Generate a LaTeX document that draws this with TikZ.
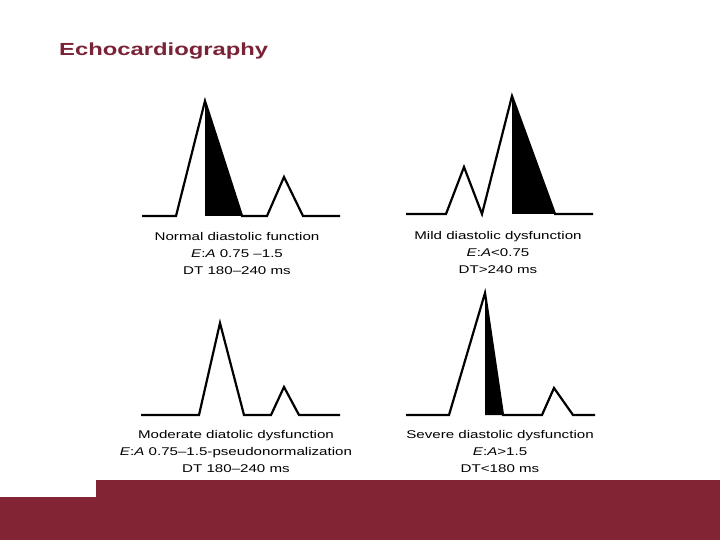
\documentclass[tikz,border=0pt]{standalone}
\usepackage{fontspec}
\setmainfont{Liberation Sans}
\definecolor{maroon}{HTML}{822433}
\definecolor{titlecol}{HTML}{7A2336}
\tikzset{
  wave/.style={line width=2.2pt, line join=miter, black},
  lbl/.style={inner sep=0pt, font=\fontsize{11.2}{17}\selectfont, text=black},
}
\newcommand{\stretchtxt}[1]{\scalebox{1.35}[1]{\begin{tabular}{@{}c@{}}#1\end{tabular}}}
\begin{document}
\begin{tikzpicture}[x=1pt,y=-1pt]
\useasboundingbox (0,0) rectangle (720,540);
% bottom bar
\fill[maroon] (96,480) -- (720,480) -- (720,540) -- (0,540) -- (0,497) -- (96,497) -- cycle;
% title
\node[anchor=west, inner sep=0pt, text=titlecol, font=\fontsize{17.5}{20}\selectfont\bfseries] (title) at (59,51) {\scalebox{1.36}[1]{Echocardiography}};

% Panel 1: normal
\fill[black] (205,101) -- (242,216) -- (205,216) -- cycle;
\draw[wave] (142,216) -- (176,216) -- (205,101) -- (242,216) -- (267,216) -- (284,177) -- (303,216) -- (340,216);
\node[lbl] (l1) at (237,254.5) {\stretchtxt{Normal diastolic function\\ \textit{E}:\textit{A} 0.75 –1.5\\ DT 180–240 ms}};

% Panel 2: mild
\fill[black] (512,96) -- (555,214) -- (512,214) -- cycle;
\draw[wave] (406,214) -- (446,214) -- (464,167) -- (482,214) -- (512,96) -- (555,214) -- (593,214);
\node[lbl] (l2) at (498,253.5) {\stretchtxt{Mild diastolic dysfunction\\ \textit{E}:\textit{A}<0.75\\ DT>240 ms}};

% Panel 3: moderate
\draw[wave] (141,415) -- (199,415) -- (220,323) -- (244,415) -- (271,415) -- (284,387) -- (299,415) -- (340,415);
\node[lbl] (l3) at (236,452) {\stretchtxt{Moderate diatolic dysfunction\\ \textit{E}:\textit{A} 0.75–1.5-pseudonormalization\\ DT 180–240 ms}};

% Panel 4: severe
\fill[black] (485,293) -- (503,415) -- (485,415) -- cycle;
\draw[wave] (406,415) -- (449,415) -- (485,293) -- (503,415) -- (542,415) -- (554,388) -- (573,415) -- (595,415);
\node[lbl] (l4) at (500,452) {\stretchtxt{Severe diastolic dysfunction\\ \textit{E}:\textit{A}>1.5\\ DT<180 ms}};
\end{tikzpicture}
\end{document}
